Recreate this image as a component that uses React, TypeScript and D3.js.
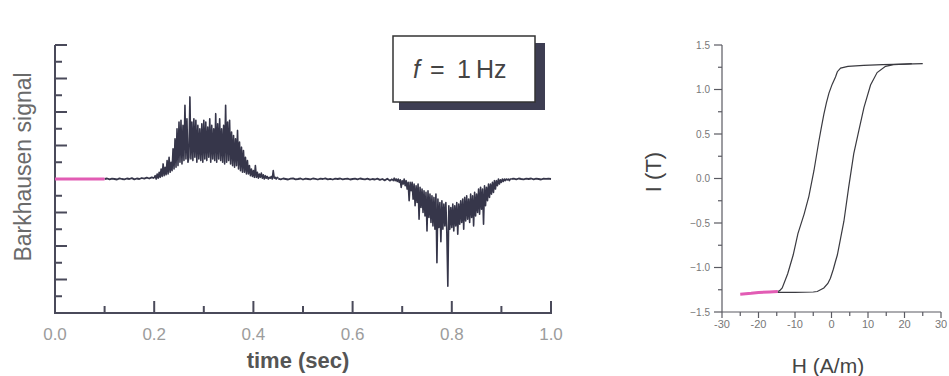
import React from "react";
import * as d3 from "d3";

// ---------- Barkhausen signal (left panel) ----------
const signalStep = 0.002; // sampling step of the burst records (s)
const quietStep = 0.005; // sampling step of the quiet records (s)

const preTriggerTimes = [0, 0.05, 0.1];
const preTriggerValues = [0, 0, 0];

const quietAStart = 0.1;
const quietA = [0, 0.03, -0.02, 0.02, 0, -0.03, 0.04, 0, -0.02, 0.03, 0, 0.05, -0.02, 0.03, 0, 0.06, 0.02, 0.08, 0.03, 0.1, 0.05];

const burst1Start = 0.2;
const burst1 = [
  0.05, 0.2, 0.0, 0.3, 0.05, 0.4, 0.1, 0.6, 0.15, 0.9,
  0.2, 0.7, 0.25, 1.1, 0.3, 1.3, 0.4, 1.0, 0.5, 1.8,
  0.6, 2.4, 0.7, 3.0, 0.8, 3.4, 1.0, 3.5, 0.9, 3.2,
  1.1, 4.4, 1.2, 3.6, 1.0, 1.3, 4.9, 1.2, 3.4, 1.1,
  3.6, 1.3, 3.5, 1.0, 3.2, 1.2, 3.0, 1.1, 3.3, 1.0,
  3.5, 1.2, 3.4, 1.1, 3.1, 1.3, 3.6, 1.0, 3.2, 1.2,
  3.0, 1.1, 3.9, 1.0, 3.3, 1.2, 3.6, 1.1, 3.0, 1.0,
  3.2, 0.9, 4.4, 1.0, 3.4, 1.1, 3.5, 0.9, 2.8, 0.8,
  2.6, 0.7, 2.4, 0.8, 2.9, 0.6, 2.2, 0.5, 1.9, 0.4,
  1.7, 0.4, 1.3, 0.3, 1.1, 0.3, 0.8, 0.2, 0.6, 0.15,
  0.5, 0.1, 0.8, 0.1, 0.4, 0.05, 0.3, 0.1, 0.35, 0.05,
  0.25, 0.0, 0.2, 0.05, 0.15, 0.0, 0.1, 0.05, 0.15, 0.0,
  0.5, 0.05, 0.1, 0.0, 0.1, 0.05,
];

const quietBStart = 0.45;
const quietB = [
  0.02, -0.02, 0.03, 0, -0.03, 0.02, 0.04, -0.02, 0, 0.03,
  -0.03, 0.02, 0, -0.02, 0.03, 0.01, -0.03, 0.02, 0, 0.04,
  -0.02, 0.01, -0.03, 0.02, 0, 0.03, -0.02, 0.01, 0.02, -0.03,
  0, 0.02, -0.02, 0.03, 0, -0.02, 0.02, -0.04, 0, -0.03,
  0.02, -0.05, 0, -0.08, 0.02, -0.1, 0.0,
];

const burst2Start = 0.68;
const burst2 = [
  0.0, -0.1, 0.05, -0.1, 0.0, -0.15, 0.0, -0.2, -0.05, -0.5,
  -0.1, -0.3, 0.0, -0.4, -0.1, -0.6, -0.2, -1.3, -0.2, -0.7,
  -0.2, -1.2, -0.3, -1.6, -0.4, -1.4, -0.3, -2.4, -0.5, -1.7,
  -0.6, -2.0, -0.7, -2.2, -0.8, -3.1, -0.7, -2.3, -0.9, -2.6,
  -1.0, -2.8, -1.1, -3.0, -0.9, -5.0, -1.2, -2.9, -1.4, -3.75,
  -1.3, -3.0, -1.5, -2.8, -1.4, -3.2, -6.4, -1.6, -3.0, -1.7,
  -2.9, -1.5, -3.1, -1.6, -2.8, -1.4, -3.3, -1.5, -2.7, -1.3,
  -2.6, -1.2, -3.0, -1.1, -2.5, -1.0, -2.4, -1.2, -2.6, -0.9,
  -2.3, -1.0, -2.8, -0.8, -2.2, -0.9, -2.0, -0.6, -2.1, -0.5,
  -1.8, -0.6, -2.7, -0.4, -1.6, -0.5, -1.3, -0.3, -1.1, -0.3,
  -0.9, -0.2, -0.8, -0.1, -0.6, -0.1, -0.4, 0.0, -0.3, -0.05,
  -0.2, 0.0, -0.15, 0.0, -0.1, 0.0, -0.05, 0.0, -0.1, 0.0,
  0.0,
];

const quietCStart = 0.92;
const quietC = [0.0, 0.02, -0.02, 0.03, 0, -0.02, 0.02, 0, 0.03, -0.02, 0.02, 0, -0.03, 0.02, 0.01, 0.02, 0.0];

const timeTicks = [0, 0.1, 0.2, 0.3, 0.4, 0.5, 0.6, 0.7, 0.8, 0.9, 1.0];
const timeLabelTicks = [0, 0.2, 0.4, 0.6, 0.8, 1.0];
const signalTicks = [-8, -7, -6, -5, -4, -3, -2, -1, 0, 1, 2, 3, 4, 5, 6, 7, 8];

// ---------- Hysteresis loop (right panel) ----------
const descH = [25, 20, 14, 8.8, 4.5, 2.5, 1.6, 1.1, 0.2, -0.7, -1.4, -2.1, -2.8, -3.5, -4.8, -6.2, -7.5, -9.2, -10.5, -12, -13.5, -14.2, -14.7];
const descI = [1.29, 1.285, 1.28, 1.27, 1.26, 1.24, 1.2, 1.14, 1.06, 0.96, 0.85, 0.72, 0.57, 0.41, 0.09, -0.2, -0.4, -0.62, -0.86, -1.07, -1.23, -1.26, -1.27];
const pinkH = [-14.7, -17, -20, -22, -25];
const pinkI = [-1.27, -1.275, -1.28, -1.29, -1.3];
const ascH = [-15, -10, -5, -3.9, -2.1, -1, -0.3, 0.5, 1.1, 1.6, 2.5, 3.4, 4.7, 6.1, 7.5, 8.9, 10.7, 12.5, 14.8, 17, 20, 22];
const ascI = [-1.28, -1.28, -1.275, -1.27, -1.23, -1.18, -1.12, -1.02, -0.93, -0.86, -0.67, -0.48, -0.1, 0.28, 0.54, 0.8, 1.05, 1.19, 1.26, 1.28, 1.285, 1.29];

const hTicks = [-30, -25, -20, -15, -10, -5, 0, 5, 10, 15, 20, 25, 30];
const hLabelTicks = [-30, -20, -10, 0, 10, 20, 30];
const iTicks = [-1.5, -1.25, -1, -0.75, -0.5, -0.25, 0, 0.25, 0.5, 0.75, 1, 1.25, 1.5];
const iLabelTicks = [-1.5, -1, -0.5, 0, 0.5, 1, 1.5];

type Pt = [number, number];

const seg = (vals: number[], start: number, step: number): Pt[] =>
  vals.map((v, i) => [start + i * step, v] as Pt);
const zip = (a: number[], b: number[]): Pt[] => a.map((v, i) => [v, b[i]] as Pt);

const FONT = "'Liberation Sans', Arial, Helvetica, sans-serif";
const DARK = "#36364a";
const PINK = "#e25cb4";

export default function App() {
  // left panel scales
  const x1 = d3.scaleLinear().domain([0, 1]).range([55, 551]);
  const y1 = d3.scaleLinear().domain([-8, 8]).range([313, 45]);
  const line1 = d3
    .line<Pt>()
    .x((d) => x1(d[0]))
    .y((d) => y1(d[1]));

  const quietPts: Pt[][] = [
    seg(quietA, quietAStart, quietStep),
    seg(quietB, quietBStart, quietStep),
    seg(quietC, quietCStart, quietStep),
  ];
  const burstPts: Pt[][] = [
    seg(burst1, burst1Start, signalStep),
    seg(burst2, burst2Start, signalStep),
  ];
  const prePts = zip(preTriggerTimes, preTriggerValues);

  // right panel scales
  const x2 = d3.scaleLinear().domain([-30, 30]).range([722, 941]);
  const y2 = d3.scaleLinear().domain([-1.5, 1.5]).range([312, 45]);
  const line2 = d3
    .line<Pt>()
    .x((d) => x2(d[0]))
    .y((d) => y2(d[1]));

  const fmt1 = d3.format(".1f");
  const isMajorTime = (t: number) => timeLabelTicks.some((m) => Math.abs(m - t) < 1e-9);
  const isMajorH = (h: number) => hLabelTicks.includes(h);
  const isMajorI = (v: number) => iLabelTicks.some((m) => Math.abs(m - v) < 1e-9);

  const axisCol = "#4a4a5a";
  const axis2Col = "#5a5a62";

  return (
    <svg
      width={949}
      height={376}
      style={{ position: "absolute", left: 0, top: 0, background: "#fff" }}
      fontFamily={FONT}
    >
      <rect x={0} y={0} width={949} height={376} fill="#ffffff" />

      {/* ---------- Left panel ---------- */}
      {signalTicks.map((v) => (
        <line
          key={"ys" + v}
          x1={x1(0)}
          x2={x1(0) + (v % 2 === 0 ? 12 : 7)}
          y1={y1(v)}
          y2={y1(v)}
          stroke={axisCol}
          strokeWidth={2}
        />
      ))}
      {timeTicks.map((t) => (
        <line
          key={"xt" + t}
          x1={x1(t)}
          x2={x1(t)}
          y1={y1(-8)}
          y2={y1(-8) - (isMajorTime(t) ? 12 : 7)}
          stroke={axisCol}
          strokeWidth={2}
        />
      ))}
      <line x1={x1(0)} x2={x1(0)} y1={y1(8)} y2={y1(-8) + 1} stroke={axisCol} strokeWidth={2} />
      <line x1={x1(0) - 1} x2={x1(1) + 1} y1={y1(-8)} y2={y1(-8)} stroke={axisCol} strokeWidth={2} />
      {timeLabelTicks.map((t) => (
        <text key={"xl" + t} x={x1(t)} y={340} textAnchor="middle" fontSize={17} fill="#9c9c9c">
          {fmt1(t)}
        </text>
      ))}
      <text x={298} y={368} textAnchor="middle" fontSize={22} fontWeight="bold" fill="#555">
        time (sec)
      </text>
      <text transform={`translate(31,167) rotate(-90)`} textAnchor="middle" fontSize={23} fill="#6a6a6a">
        Barkhausen signal
      </text>

      {/* signal */}
      {quietPts.map((p, i) => (
        <path key={"q" + i} d={line1(p) || ""} fill="none" stroke={DARK} strokeWidth={1.8} strokeLinejoin="round" />
      ))}
      {burstPts.map((p, i) => (
        <path key={"b" + i} d={line1(p) || ""} fill="none" stroke={DARK} strokeWidth={1.6} strokeLinejoin="round" />
      ))}
      <path d={line1(prePts) || ""} fill="none" stroke={PINK} strokeWidth={3} />

      {/* legend box */}
      <rect x={399} y={43} width={146} height={67} fill="#3d3d52" />
      <rect x={393} y={36} width={142} height={66} fill="#fff" stroke="#333" strokeWidth={1.5} />
      <text x={413} y={78} fontSize={25} fill="#444">
        <tspan fontStyle="italic">f</tspan>
        <tspan x={430}>=</tspan>
        <tspan x={457}>1</tspan>
        <tspan x={476}>Hz</tspan>
      </text>

      {/* ---------- Right panel ---------- */}
      {iTicks.map((v) => (
        <line
          key={"it" + v}
          x1={x2(-30)}
          x2={x2(-30) - (isMajorI(v) ? 8 : 4)}
          y1={y2(v)}
          y2={y2(v)}
          stroke={axis2Col}
          strokeWidth={1.2}
        />
      ))}
      {hTicks.map((h) => (
        <line
          key={"ht" + h}
          x1={x2(h)}
          x2={x2(h)}
          y1={y2(-1.5)}
          y2={y2(-1.5) + (isMajorH(h) ? 6 : 4)}
          stroke={axis2Col}
          strokeWidth={1.2}
        />
      ))}
      <line x1={x2(-30)} x2={x2(-30)} y1={y2(1.5)} y2={y2(-1.5)} stroke={axis2Col} strokeWidth={1.2} />
      <line x1={x2(-30)} x2={x2(30)} y1={y2(-1.5)} y2={y2(-1.5)} stroke={axis2Col} strokeWidth={1.2} />
      {iLabelTicks.map((v) => (
        <text key={"il" + v} x={710} y={y2(v) + 3.5} textAnchor="end" fontSize={10} fill="#777">
          {fmt1(v)}
        </text>
      ))}
      {hLabelTicks.map((h) => (
        <text key={"hl" + h} x={x2(h)} y={328} textAnchor="middle" fontSize={11} fill="#777">
          {h}
        </text>
      ))}
      <text x={828} y={373} textAnchor="middle" fontSize={21} fill="#444">
        H (A/m)
      </text>
      <text transform={`translate(661,172) rotate(-90)`} textAnchor="middle" fontSize={22} fill="#444">
        I (T)
      </text>

      <path d={line2(zip(descH, descI)) || ""} fill="none" stroke="#3a3a40" strokeWidth={1.2} />
      <path d={line2(zip(ascH, ascI)) || ""} fill="none" stroke="#3a3a40" strokeWidth={1.2} />
      <path d={line2(zip(pinkH, pinkI)) || ""} fill="none" stroke={PINK} strokeWidth={3} />
    </svg>
  );
}
